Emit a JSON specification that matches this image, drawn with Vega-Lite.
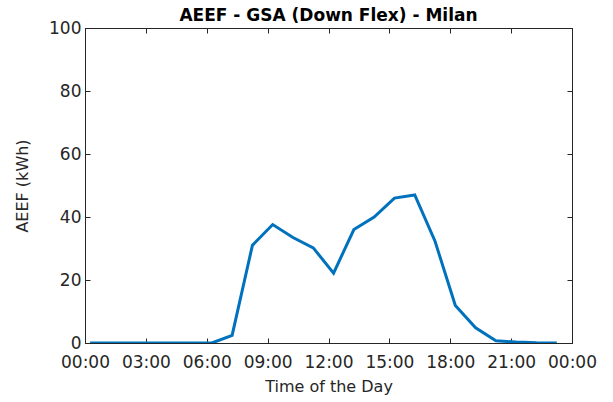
{
  "$schema": "https://vega.github.io/schema/vega-lite/v6.json",
  "autosize": {"type": "none"},
  "width": 487,
  "height": 315,
  "padding": {"left": 85, "top": 28, "right": 41, "bottom": 59},
  "background": "white",
  "title": {"text": "AEEF - GSA (Down Flex) - Milan", "fontSize": 17, "font": "DejaVu Sans", "fontWeight": "bold", "color": "#000000", "offset": 0, "dy": 6, "anchor": "middle"},
  "config": {
    "view": {"stroke": "#262626", "strokeWidth": 1},
    "axis": {"grid": false, "domainColor": "#262626", "tickColor": "#262626", "labelColor": "#262626", "titleColor": "#262626", "labelFont": "DejaVu Sans", "titleFont": "DejaVu Sans", "labelFontSize": 17, "titleFontSize": 16, "titleFontWeight": "normal", "tickSize": -5}
  },
  "data": {"values": [
    {"h": 0.25, "v": 0}, {"h": 1.25, "v": 0}, {"h": 2.25, "v": 0}, {"h": 3.25, "v": 0},
    {"h": 4.25, "v": 0}, {"h": 5.25, "v": 0}, {"h": 6.25, "v": 0}, {"h": 7.25, "v": 2.4},
    {"h": 8.25, "v": 31.0}, {"h": 9.25, "v": 37.6}, {"h": 10.25, "v": 33.5}, {"h": 11.25, "v": 30.2},
    {"h": 12.25, "v": 22.2}, {"h": 13.25, "v": 36.0}, {"h": 14.25, "v": 40.0}, {"h": 15.25, "v": 46.0},
    {"h": 16.25, "v": 47.0}, {"h": 17.25, "v": 32.3}, {"h": 18.25, "v": 11.9}, {"h": 19.25, "v": 4.8},
    {"h": 20.25, "v": 0.7}, {"h": 21.25, "v": 0.3}, {"h": 22.25, "v": 0.05}, {"h": 23.25, "v": 0}
  ]},
  "layer": [
    {
      "mark": {"type": "line", "color": "#0072BD", "strokeWidth": 3, "clip": true},
      "encoding": {
        "x": {"field": "h", "type": "quantitative", "scale": {"domain": [0, 24], "nice": false, "zero": false},
              "axis": {"orient": "bottom", "values": [0, 3, 6, 9, 12, 15, 18, 21, 24], "labelExpr": "(datum.value % 24 < 10 ? '0' : '') + (datum.value % 24) + ':00'", "title": "Time of the Day", "labelPadding": 16, "titlePadding": 8, "labelFlush": false, "labelOverlap": false}},
        "y": {"field": "v", "type": "quantitative", "scale": {"domain": [0, 100], "nice": false},
              "axis": {"orient": "left", "values": [0, 20, 40, 60, 80, 100], "title": "AEEF (kWh)", "labelPadding": 9, "titlePadding": 18, "labelFlush": false}}
      }
    },
    {
      "mark": {"type": "line", "opacity": 0},
      "encoding": {
        "x": {"field": "h", "type": "quantitative", "axis": {"orient": "top", "values": [0, 3, 6, 9, 12, 15, 18, 21, 24], "labels": false, "title": null}},
        "y": {"field": "v", "type": "quantitative", "axis": {"orient": "right", "values": [0, 20, 40, 60, 80, 100], "labels": false, "title": null}}
      }
    }
  ],
  "resolve": {"axis": {"x": "independent", "y": "independent"}}
}
